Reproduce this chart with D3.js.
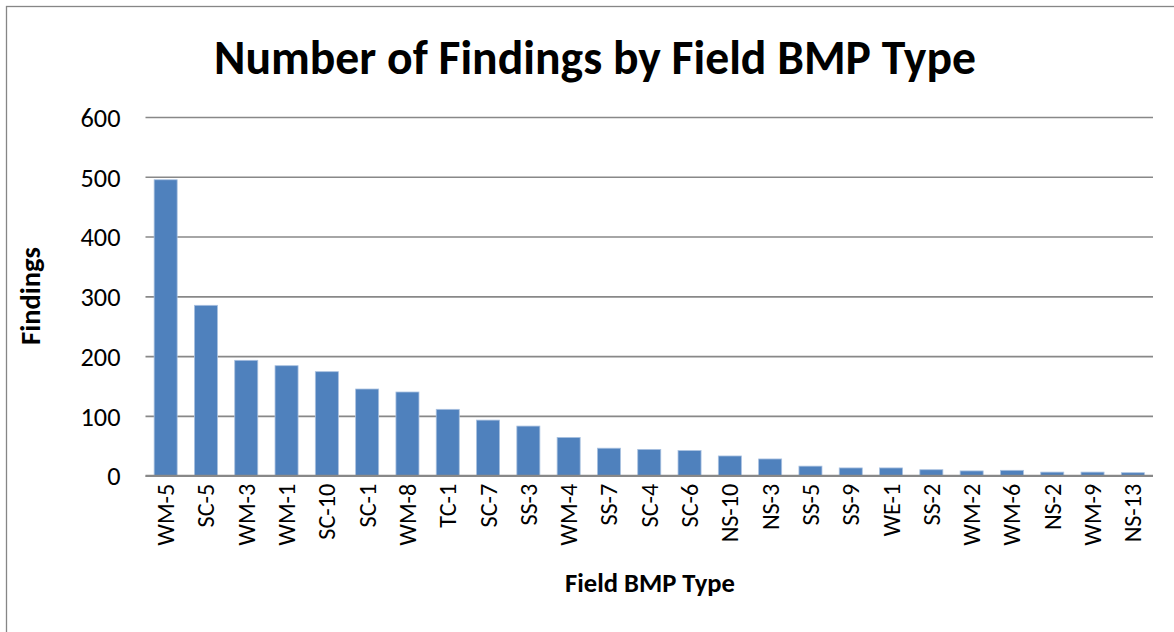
<!DOCTYPE html>
<html>
<head>
<meta charset="utf-8">
<script src="https://cdn.jsdelivr.net/npm/d3@7"></script>
<style>
  html, body { margin: 0; padding: 0; background: #fff; }
  svg { display: block; }
  text { font-family: Carlito, Calibri, Lato, "Open Sans", sans-serif; fill: #000; }
</style>
</head>
<body>
<svg id="chart" width="1174" height="632"></svg>
<script>
const categories = ["WM-5","SC-5","WM-3","WM-1","SC-10","SC-1","WM-8","TC-1","SC-7","SS-3","WM-4","SS-7","SC-4","SC-6","NS-10","NS-3","SS-5","SS-9","WE-1","SS-2","WM-2","WM-6","NS-2","WM-9","NS-13"];
const findings = [495,285,193,184,174,145,140,111,93,83,64,46,44,42,33,28,16,13,13,10,8,9,6,6,5];
const yTicks = [0,100,200,300,400,500,600];
const titleText = "Number of Findings by Field BMP Type";
const xTitle = "Field BMP Type";
const yTitle = "Findings";

const svg = d3.select("#chart");
const W = 1174, H = 632;
const plot = {left: 145.5, right: 1153, top: 117, bottom: 475.7};

// chart area border
svg.append("rect").attr("x", 6.5).attr("y", 6.5).attr("width", 1200).attr("height", 700)
  .attr("fill", "#fff").attr("stroke", "#868686").attr("stroke-width", 1.3);

// helper: fit font size so text width equals target
function fitSize(str, weight, target) {
  const t = svg.append("text").attr("font-size", 100).attr("font-weight", weight).text(str);
  const w = t.node().getComputedTextLength();
  t.remove();
  return 100 * target / w;
}

const x = d3.scaleBand().domain(categories).range([plot.left, plot.right])
  .paddingInner(0.4286).paddingOuter(0.2143);
const y = d3.scaleLinear().domain([0, 600]).range([plot.bottom, plot.top]);

// gridlines
const gridAxis = d3.axisLeft(y).tickValues(yTicks).tickSize(-(plot.right - plot.left)).tickFormat("");
const grid = svg.append("g").attr("transform", `translate(${plot.left},0)`).call(gridAxis);
grid.select(".domain").remove();
grid.selectAll("line").attr("stroke", "#888888").attr("stroke-width", 1.6);

// bars
svg.append("g").selectAll("rect").data(categories).join("rect")
  .attr("x", d => x(d))
  .attr("width", x.bandwidth())
  .attr("y", (d, i) => y(findings[i]))
  .attr("height", (d, i) => y(0) - y(findings[i]))
  .attr("fill", "#4F81BD")
  .attr("stroke", "#A9C1E0").attr("stroke-width", 0.8);

// baseline
svg.append("line").attr("x1", plot.left).attr("x2", plot.right)
  .attr("y1", y(0)).attr("y2", y(0)).attr("stroke", "#888888").attr("stroke-width", 2);

// y tick labels
const tickSize = fitSize("600", "normal", 40);
const yAxis = d3.axisLeft(y).tickValues(yTicks).tickSize(0).tickPadding(0);
const ya = svg.append("g").attr("transform", `translate(${plot.left - 25},0)`).call(yAxis);
ya.select(".domain").remove();
ya.selectAll("text").attr("font-size", tickSize).attr("dy", "0.35em")
  .style("font-family", "Carlito, Calibri, Lato, 'Open Sans', sans-serif").attr("fill", "#000");

// x tick labels (rotated)
const xlabSize = fitSize("WM-5", "normal", 62);
const xAxis = d3.axisBottom(x).tickSize(0).tickPadding(0);
const xa = svg.append("g").attr("transform", `translate(0,${plot.bottom})`).call(xAxis);
xa.select(".domain").remove();
xa.selectAll("text")
  .attr("font-size", xlabSize)
  .style("font-family", "Carlito, Calibri, Lato, 'Open Sans', sans-serif").attr("fill", "#000")
  .attr("text-anchor", "end")
  .attr("transform", "rotate(-90)")
  .attr("x", -8).attr("y", 0).attr("dy", "0.35em");

// title
const titleSize = fitSize(titleText, "bold", 762);
svg.append("text").attr("x", 595).attr("y", 74).attr("text-anchor", "middle")
  .attr("font-size", titleSize).attr("font-weight", "bold").text(titleText);

// x axis title
const xtSize = fitSize(xTitle, "bold", 170);
svg.append("text").attr("x", 650).attr("y", 592).attr("text-anchor", "middle")
  .attr("font-size", xtSize).attr("font-weight", "bold").text(xTitle);

// y axis title
const ytSize = fitSize(yTitle, "bold", 98);
svg.append("text").attr("transform", `translate(40,296) rotate(-90)`).attr("text-anchor", "middle")
  .attr("font-size", ytSize).attr("font-weight", "bold").text(yTitle);
</script>
</body>
</html>
